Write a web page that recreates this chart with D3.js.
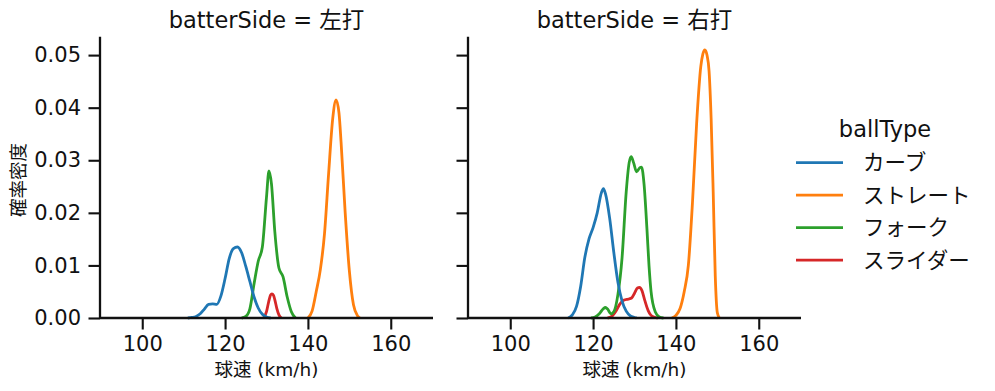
<!DOCTYPE html>
<html><head><meta charset="utf-8">
<script src="https://cdn.jsdelivr.net/npm/d3@7"></script>
<style>body{margin:0;background:#fff}svg{display:block}text{font-family:"DejaVu Sans","Noto Sans CJK JP",sans-serif;fill:#111}</style>
</head><body><svg id="c" width="995" height="391"></svg>
<script>
const ballTypes = ["カーブ", "ストレート", "フォーク", "スライダー"];
const colors = ["#1f77b4", "#ff7f0e", "#2ca02c", "#d62728"];
const panels = ["左打", "右打"];
const xTicks = [100, 120, 140, 160];
const yTicks = [0, 0.01, 0.02, 0.03, 0.04, 0.05];

// 左打
const L_curve_x = [111,112,113,114,115,116,117,118,119,120,121,122,123,124,125,126,127,128,129,130,131];
const L_curve_y = [0,0.0001,0.0003,0.0008,0.0017,0.0026,0.0027,0.0026,0.0042,0.0075,0.0113,0.0132,0.0135,0.0124,0.0098,0.0069,0.0040,0.0019,0.0007,0.0002,0];
const L_straight_x = [140,141,142,143,144,145,146,146.8,147.5,148,149,150,151,152,152.5];
const L_straight_y = [0,0.0013,0.0050,0.0092,0.0160,0.0275,0.0380,0.0415,0.0390,0.0335,0.0200,0.0090,0.0025,0.0004,0];
const L_fork_x = [124,125,126,127,128,129,130,130.6,131.2,132,133,134,135,136,137];
const L_fork_y = [0,0.0003,0.0018,0.0065,0.0108,0.0135,0.0230,0.0280,0.0255,0.0165,0.0095,0.0078,0.0040,0.0012,0];
const L_slider_x = [129.3,130,130.5,131,131.3,131.7,132,132.5,133,133.6];
const L_slider_y = [0,0.0012,0.0030,0.0044,0.0046,0.0043,0.0035,0.0018,0.0006,0];

// 右打
const R_curve_x = [114,115,116,117,118,119,120,121,122,122.5,123,124,125,126,127,128,129,130,130.5];
const R_curve_y = [0,0.0006,0.0022,0.0060,0.0115,0.0150,0.0172,0.0200,0.0238,0.0246,0.0236,0.0190,0.0125,0.0068,0.0032,0.0013,0.0004,0.0001,0];
const R_straight_x = [139,140,141,142,143,144,145,146,146.5,147,147.5,148,148.5,149,149.5,150,150.5];
const R_straight_y = [0,0.0005,0.0018,0.0050,0.0100,0.0220,0.0370,0.0478,0.0502,0.0510,0.0500,0.0470,0.0380,0.0240,0.0080,0.0010,0];
const R_fork_x = [119.5,120.5,121.5,122.5,123,123.5,124.3,125,126,127,128,128.7,129.2,129.8,130.5,131.3,131.7,132.3,133,133.5,134,135,136,137];
const R_fork_y = [0,0.0002,0.0008,0.0018,0.0020,0.0017,0.0008,0.0012,0.0045,0.0115,0.0240,0.0295,0.0307,0.0295,0.0278,0.0286,0.0287,0.0255,0.0170,0.0100,0.0050,0.0012,0.0002,0];
const R_slider_x = [123.5,124.5,125.5,126.5,127.5,128.5,129.3,130,130.7,131.2,131.8,132.5,133.3,134,135,135.6];
const R_slider_y = [0,0.0003,0.0013,0.0027,0.0034,0.0036,0.0038,0.0047,0.0057,0.0058,0.0052,0.0033,0.0014,0.0005,0.0001,0];

const series = [
  [[L_curve_x,L_curve_y],[L_straight_x,L_straight_y],[L_fork_x,L_fork_y],[L_slider_x,L_slider_y]],
  [[R_curve_x,R_curve_y],[R_straight_x,R_straight_y],[R_fork_x,R_fork_y],[R_slider_x,R_slider_y]]
];

const svg = d3.select("#c");
const panelLeft = [100, 468], pw = 333, plotTop = 36.7, plotBottom = 318;
const y = d3.scaleLinear().domain([0, 0.0535]).range([plotBottom, plotTop]);

panels.forEach((p, pi) => {
  const x0 = panelLeft[pi];
  const x = d3.scaleLinear().domain([89.8, 170.2]).range([x0, x0 + pw]);
  const g = svg.append("g");
  const line = d3.line().x(d => x(d[0])).y(d => y(d[1])).curve(d3.curveMonotoneX);
  for (let k = ballTypes.length - 1; k >= 0; k--) {
    const [xs, ys] = series[pi][k];
    const pts = xs.map((v, i) => [v, ys[i]]);
    g.append("path").attr("d", line(pts)).attr("fill", "none")
      .attr("stroke", colors[k]).attr("stroke-width", 2.8).attr("stroke-linejoin", "round").attr("stroke-linecap", "butt");
  }
  const xa = g.append("g").attr("transform", `translate(0,${plotBottom})`)
    .call(d3.axisBottom(x).tickValues(xTicks).tickSize(11.5).tickPadding(7).tickFormat(d3.format("d")));
  const ya = g.append("g").attr("transform", `translate(${x0},0)`)
    .call(d3.axisLeft(y).tickValues(yTicks).tickSize(11.5).tickPadding(7.5).tickFormat(pi === 0 ? d3.format(".2f") : () => ""));
  [xa, ya].forEach(a => {
    a.select(".domain").attr("stroke", "#111").attr("stroke-width", 2.3);
    a.selectAll(".tick line").attr("stroke", "#111").attr("stroke-width", 2.1);
    a.selectAll(".tick text").attr("font-size", 21).style("fill", "#111");
  });
  xa.select(".domain").attr("d", `M${x0},0H${x0 + pw}`);
  ya.select(".domain").attr("d", `M0,${plotTop}V${plotBottom}`);
  g.append("text").attr("x", x0 + pw / 2).attr("y", 28).attr("text-anchor", "middle")
    .attr("font-size", 22.5).text(`batterSide = ${p}`);
  g.append("text").attr("x", x0 + pw / 2).attr("y", 376).attr("text-anchor", "middle")
    .attr("font-size", 18.5).text("球速 (km/h)");
});

svg.append("text").attr("transform", "translate(25,180) rotate(-90)").attr("text-anchor", "middle")
  .attr("font-size", 18.5).text("確率密度");

const lg = svg.append("g");
lg.append("text").attr("x", 885).attr("y", 137).attr("text-anchor", "middle").attr("font-size", 22.5).text("ballType");
ballTypes.forEach((b, i) => {
  const yy = 162.7 + i * 32.5;
  lg.append("line").attr("x1", 796).attr("x2", 843).attr("y1", yy).attr("y2", yy)
    .attr("stroke", colors[i]).attr("stroke-width", 2.8);
  lg.append("text").attr("x", 863).attr("y", yy + 7.5).attr("font-size", 21.5).text(b);
});
</script></body></html>
